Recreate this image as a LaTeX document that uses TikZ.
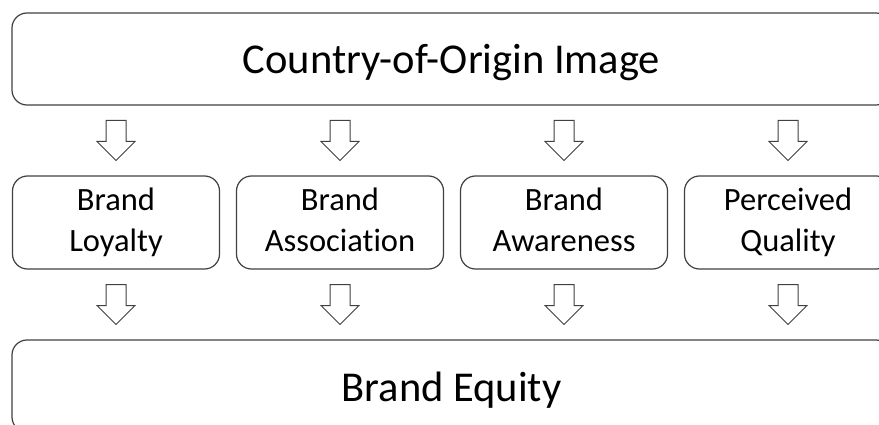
\documentclass[tikz,border=0pt]{standalone}
\usepackage{fontspec}
\setmainfont{Carlito}[Ligatures=NoCommon]
\usetikzlibrary{calc}

\tikzset{
  bigbox/.style={draw=black!75,line width=1.2pt,rounded corners=15pt,
    minimum width=879pt,minimum height=92pt,text height=30pt,text depth=0pt,
    font=\fontsize{42.5}{50}\selectfont},
  smallbox/.style={draw=black!75,line width=1.2pt,rounded corners=15pt,
    minimum width=207pt,minimum height=93pt,align=center,
    font=\fontsize{32.5}{41}\selectfont,
    execute at begin node=\rule{0pt}{44pt},
    execute at end node=\rule[-6pt]{0pt}{6pt}},
  downarrow/.pic={
    \draw[black!75,line width=1pt,fill=white]
      (-10,-20) -- (10,-20) -- (10,1) -- (19,1) -- (0,20) -- (-19,1) -- (-10,1) -- cycle;
  }
}

\begin{document}
\begin{tikzpicture}[x=1pt,y=-1pt]
        \useasboundingbox (0,0) rectangle (879,425);
        \clip (0,0) rectangle (879,425);

        \node[bigbox] (coo) at (451.5,59) {Country-of-Origin Image};
        \node[bigbox] (equity) at (451.5,386) {Brand Equity};

        \foreach \i/\name/\txt in {0/loyalty/Brand\\Loyalty,
                                   1/association/Brand\\Association,
                                   2/awareness/Brand\\Awareness,
                                   3/quality/Perceived\\Quality}
        {
          \node[smallbox] (\name) at ({116+224*\i},222.5) {\txt};
          \pic at ($(coo.south -| \name.north)!0.5!(\name.north)$) {downarrow};
          \pic at ($(\name.south)!0.5!(equity.north -| \name.south)$) {downarrow};
        }
      \end{tikzpicture}
\end{document}
